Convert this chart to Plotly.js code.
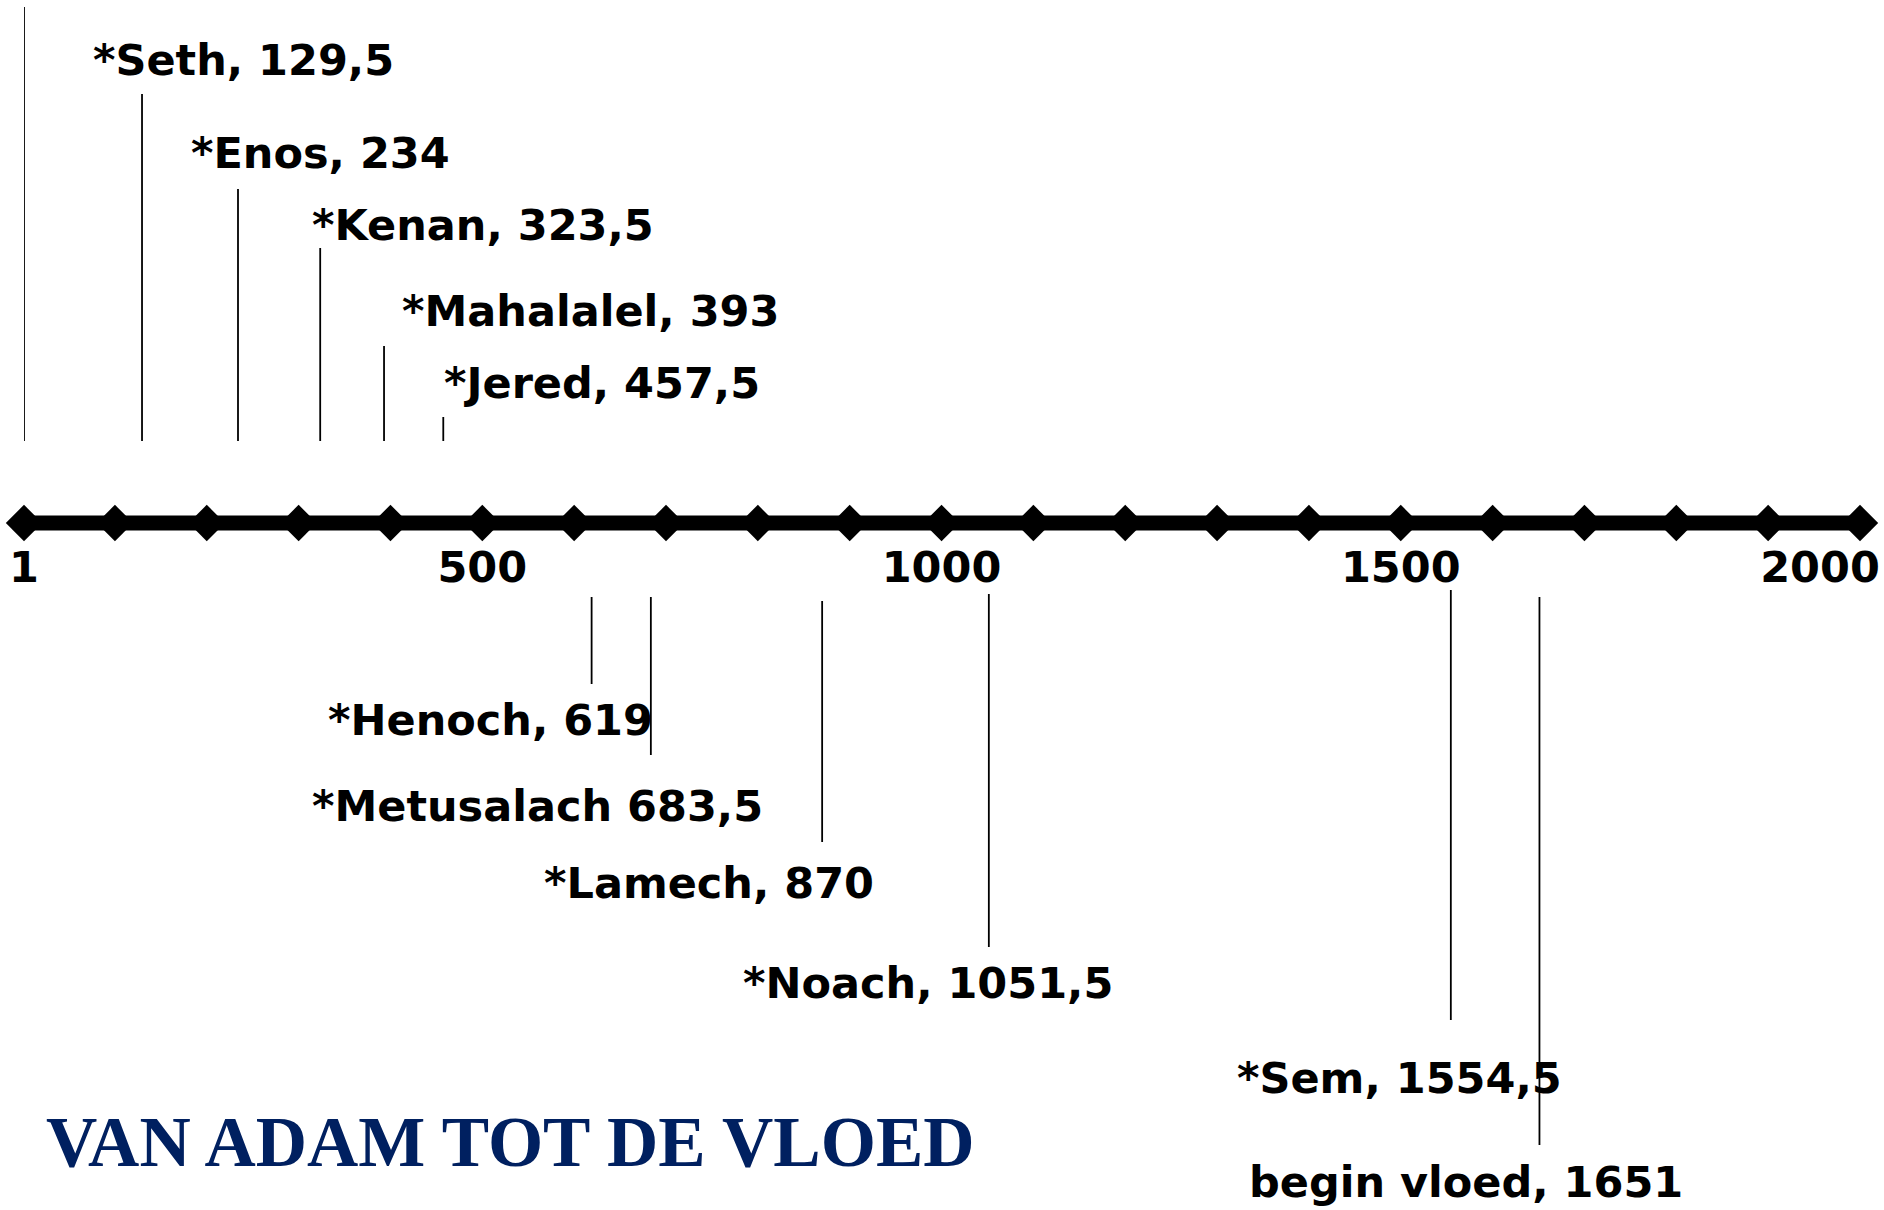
<!DOCTYPE html>
<html>
<head>
<meta charset="utf-8">
<script src="https://cdn.plot.ly/plotly-3.0.1.min.js"></script>
<style>
  html, body { margin: 0; padding: 0; background: #ffffff; }
  #chart { width: 1884px; height: 1210px; }
</style>
</head>
<body>
<div id="chart"></div>
<script>
// ---------- DATA ----------
const centuryMarks = [1, 100, 200, 300, 400, 500, 600, 700, 800, 900, 1000,
                      1100, 1200, 1300, 1400, 1500, 1600, 1700, 1800, 1900, 2000];
const tickVals = [1, 500, 1000, 1500, 2000];
const tickText = ["1", "500", "1000", "1500", "2000"];

const eventYears = [1, 129.5, 234, 323.5, 393, 457.5, 619, 683.5, 870, 1051.5, 1554.5, 1651];
const eventLabels = ["", "*Seth, 129,5", "*Enos, 234", "*Kenan, 323,5", "*Mahalalel, 393",
                     "*Jered, 457,5", "*Henoch, 619", "*Metusalach 683,5", "*Lamech, 870",
                     "*Noach, 1051,5", "*Sem, 1554,5", "begin vloed, 1651"];
const chartTitle = "VAN ADAM TOT DE VLOED";

// ---------- LAYOUT (positions in pixel units of the y axis; line at 0) ----------
const leaderTop    = [516, 429, 334, 275, 177, 106, -74, -74, -78, -71, -67, -74];
const leaderBottom = [82, 82, 82, 82, 82, 82, -161, -232, -319, -424, -497, -622];
const labelY       = [0, 463, 370, 298, 212, 140, -197, -283, -360, -460, -555, -659];
const labelShift   = [0, -51, -49, -10, 16, -1, -266, -341, -280, -248, -216, -292];

const W = 1884, H = 1210;
const lineY = 523;           // pixel row of the timeline

// leader lines
const lx = [], ly = [];
eventYears.forEach((yr, i) => {
  lx.push(yr, yr, null);
  ly.push(leaderTop[i], leaderBottom[i], null);
});

const lastTick = tickVals.length - 1;

const traces = [
  {
    x: lx, y: ly, type: 'scatter', mode: 'lines',
    line: { color: '#000000', width: 1.8 },
    hoverinfo: 'skip', showlegend: false, cliponaxis: false
  },
  {
    x: centuryMarks, y: centuryMarks.map(() => 0),
    type: 'scatter', mode: 'lines+markers',
    line: { color: '#000000', width: 15 },
    marker: { symbol: 'diamond', size: 28, color: '#000000' },
    hoverinfo: 'skip', showlegend: false, cliponaxis: false
  },
  {
    // carrier for the last tick label axis (invisible)
    x: [tickVals[lastTick]], y: [0], xaxis: 'x2', yaxis: 'y',
    type: 'scatter', mode: 'markers', marker: { opacity: 0 },
    hoverinfo: 'skip', showlegend: false
  }
];

const labelFont = { family: 'DejaVu Sans', size: 43, color: '#000000', weight: 'bold' };

const annotations = [];
eventYears.forEach((yr, i) => {
  if (!eventLabels[i]) return;
  annotations.push({
    x: yr, y: labelY[i], xref: 'x', yref: 'y',
    text: eventLabels[i], showarrow: false,
    xanchor: 'left', yanchor: 'middle', xshift: labelShift[i],
    font: labelFont
  });
});

const axisCommon = {
  range: [1, 2000],
  ticks: '', showgrid: false, zeroline: false, showline: false,
  anchor: 'free', position: 1 - 538 / H,
  ticklabeloverflow: 'allow',
  tickfont: labelFont,
  fixedrange: true
};

const layout = {
  width: W, height: H,
  margin: { l: 24, r: 24, t: 0, b: 0, pad: 0 },
  paper_bgcolor: '#ffffff', plot_bgcolor: '#ffffff',
  showlegend: false,
  title: {
    text: chartTitle,
    x: 46 / W, xanchor: 'left', xref: 'container',
    y: 1 - 1141 / H, yanchor: 'middle', yref: 'container',
    font: { family: 'Liberation Serif', size: 71, color: '#002060', weight: 'bold' }
  },
  xaxis: Object.assign({}, axisCommon, {
    tickvals: tickVals.slice(0, lastTick), ticktext: tickText.slice(0, lastTick)
  }),
  xaxis2: Object.assign({}, axisCommon, {
    overlaying: 'x',
    tickvals: [tickVals[lastTick]], ticktext: [tickText[lastTick]],
    ticklabelshift: -40
  }),
  yaxis: {
    range: [lineY - H, lineY],
    visible: false, showgrid: false, zeroline: false,
    fixedrange: true
  },
  annotations: annotations
};

Plotly.newPlot('chart', traces, layout, { displayModeBar: false, staticPlot: true });
</script>
</body>
</html>
